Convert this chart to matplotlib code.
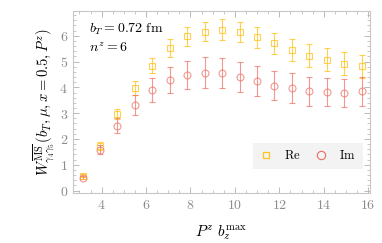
import matplotlib
matplotlib.use("Agg")
import matplotlib.pyplot as plt
from matplotlib.lines import Line2D
import numpy as np

plt.rcParams['mathtext.fontset'] = 'cm'
plt.rcParams['font.family'] = 'serif'
plt.rcParams['font.serif'] = ['DejaVu Serif']

# --- data ---
pz_bmax = [3.14, 3.93, 4.71, 5.50, 6.28, 7.07, 7.85, 8.64, 9.42,
           10.21, 11.00, 11.78, 12.57, 13.35, 14.14, 14.92, 15.71]

re_val = [0.58, 1.74, 2.97, 3.97, 4.84, 5.52, 5.97, 6.16, 6.23,
          6.15, 5.94, 5.71, 5.45, 5.23, 5.07, 4.91, 4.81]
re_err = [0.07, 0.15, 0.19, 0.26, 0.30, 0.34, 0.36, 0.36, 0.40,
          0.40, 0.40, 0.40, 0.43, 0.43, 0.44, 0.45, 0.46]

im_val = [0.50, 1.58, 2.52, 3.32, 3.90, 4.29, 4.48, 4.57, 4.55,
          4.40, 4.26, 4.07, 3.97, 3.84, 3.81, 3.78, 3.84]
im_err = [0.06, 0.17, 0.29, 0.39, 0.45, 0.51, 0.55, 0.59, 0.59,
          0.57, 0.58, 0.56, 0.57, 0.55, 0.54, 0.55, 0.58]

re_color = '#FFC21A'
im_color = '#EC6E62'
gray = '#8c8c8c'

fig = plt.figure(figsize=(3.82, 2.43), dpi=100)
ax = fig.add_axes([0.191, 0.206, 0.778, 0.749])

ax.errorbar(pz_bmax, re_val, yerr=re_err, fmt='s', ms=4.5, mfc='none',
            mec=re_color, mew=0.8, ecolor=re_color, elinewidth=0.8,
            capsize=2.5, capthick=0.8, alpha=0.75)
ax.errorbar(pz_bmax, im_val, yerr=im_err, fmt='o', ms=5, mfc='none',
            mec=im_color, mew=0.8, ecolor=im_color, elinewidth=0.8,
            capsize=2.5, capthick=0.8, alpha=0.7)

ax.set_xlim(2.71, 16.09)
ax.set_ylim(-0.09, 6.96)

xt = [4, 6, 8, 10, 12, 14, 16]
yt = [0, 1, 2, 3, 4, 5, 6]
ax.set_xticks(xt)
ax.set_xticklabels(['$%d$' % v for v in xt])
ax.set_yticks(yt)
ax.set_yticklabels(['$%d$' % v for v in yt])
ax.set_xticks(np.arange(3, 16.5, 0.5), minor=True)
ax.set_yticks(np.arange(-0.0, 7.0, 0.2), minor=True)

ax.tick_params(which='both', direction='in', top=True, right=True,
               colors='#b0b0b0', labelcolor=gray, labelsize=10)
ax.tick_params(which='major', length=4, width=0.6)
ax.tick_params(which='minor', length=2, width=0.5)
for s in ax.spines.values():
    s.set_color('#c8c8c8')
    s.set_linewidth(0.8)

ax.text(0.055, 0.9, r'$b_T = 0.72\ \mathrm{fm}$', transform=ax.transAxes,
        fontsize=10, va='center')
ax.text(0.055, 0.795, r'$n^z = 6$', transform=ax.transAxes,
        fontsize=10, va='center')

ax.set_xlabel(r'$P^z\ b_z^{\max}$', fontsize=11)
ax.xaxis.set_label_coords(0.5, -0.165)
ax.set_ylabel(r'$W^{\overline{\rm MS}}_{\gamma_4\gamma_5}(b_T,\mu,x=0.5,P^z)$',
              fontsize=10.5, labelpad=2)

handles = [Line2D([], [], ls='none', marker='s', ms=4, mfc='none',
                  mec=re_color, mew=0.9),
           Line2D([], [], ls='none', marker='o', ms=6, mfc='none',
                  mec=im_color, mew=0.8)]
ax.legend(handles, [r'$\mathrm{Re}$', r'$\mathrm{Im}$'], loc='lower right',
          bbox_to_anchor=(0.975, 0.13), borderaxespad=0, ncol=2,
          frameon=True, fancybox=False, fontsize=9, handletextpad=1.0,
          columnspacing=1.2, borderpad=0.55, handlelength=0.9,
          facecolor='#f3f3f3', edgecolor='none', framealpha=1.0)

fig.savefig('out.png', dpi=100)
